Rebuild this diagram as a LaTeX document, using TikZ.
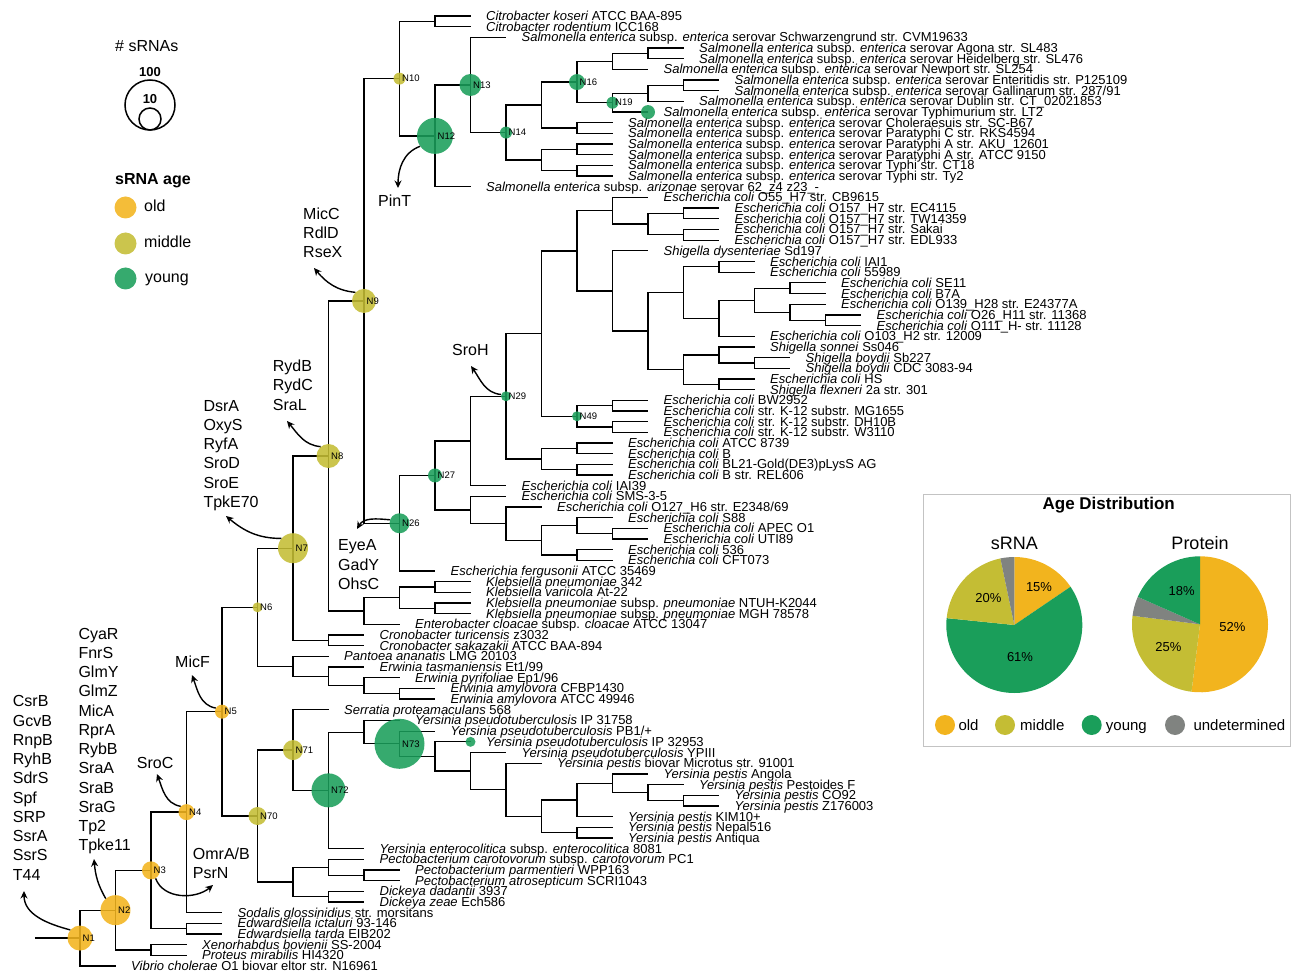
\documentclass[tikz,border=0pt]{standalone}
\usepackage{fontspec}
\setmainfont{Liberation Sans}
\usepackage{tikz}
\usetikzlibrary{arrows.meta}
\definecolor{oldc}{RGB}{242,180,30}
\definecolor{midc}{RGB}{196,189,52}
\definecolor{youngc}{RGB}{26,158,90}
\definecolor{undetc}{RGB}{128,131,128}
\definecolor{framegrey}{RGB}{195,195,195}

\newcommand{\salm}{\textit{Salmonella enterica} subsp. \textit{enterica} serovar}
\newcommand{\ecoli}{\textit{Escherichia coli}}
\newcommand{\clade}[3]{\draw[branch] (#1) |- (#2) (#1) |- (#3);}
\newcommand{\agenode}[4]{\node[#2, minimum size=#3pt] (c#1) at (#1) {};
  \node[nlab] (l#1) at (#1) {#4};}

\begin{document}
\begin{tikzpicture}[x=1pt, y=-1pt,
    branch/.style={line width=1.3pt},
    leaf/.style={anchor=base west, inner sep=0pt, xshift=15.5pt, yshift=-4.5pt,
                 font=\fontsize{13}{13}\selectfont},
    agedot/.style={circle, inner sep=0pt, fill opacity=0.88, text opacity=1},
    oldage/.style={agedot, fill=oldc},
    midage/.style={agedot, fill=midc},
    youngage/.style={agedot, fill=youngc},
    nlab/.style={anchor=west, inner sep=0pt, xshift=2.5pt, font=\fontsize{9.5}{10}\selectfont},
    srnalist/.style={anchor=north west, align=left, inner sep=0pt,
                     font=\fontsize{16}{19.25}\selectfont},
    txt/.style={anchor=west, inner sep=0pt, font=\fontsize{16}{16}\selectfont},
    keytxt/.style={anchor=base west, inner sep=0pt, font=\fontsize{16}{16}\selectfont},
    gain/.style={-{Stealth[length=7.5pt, width=7pt]}, line width=1.4pt}
]
\useasboundingbox (0,0) rectangle (1291,973);

% tree layout: depth along x, leaf index along y
\begin{scope}[shift={(80pt,-5.326pt)}, x=35.5pt, y=-10.674pt]
  \foreach \d [count=\i] in {11,11,12,17,17,16,18,18,17,16,15,15,15,15,15,15,11,16,18,18,
                             18,18,16,19,19,21,21,21,22,22,19,19,20,20,19,19,16,16,16,16,
                             15,15,15,15,12,12,13,15,16,16,15,15,10,11,11,11,11,9,8,8,
                             7,8,9,10,10,7,9,10,11,12,13,16,17,18,18,15,15,15,8,8,
                             9,9,8,8,4,4,4,3,3,1}
    \coordinate (t\i) at (\d,\i);
  % Salmonella / Citrobacter
  \coordinate (cit) at (10,1.5);
  \coordinate (p45) at (16,4.5);
  \coordinate (s1) at (15,5.25);
  \coordinate (p78) at (17,7.5);
  \coordinate (s2) at (16,8.25);
  \coordinate (n19) at (15,9.125);
  \coordinate (n16) at (14,7.1875);
  \coordinate (p1112) at (14,11.5);
  \coordinate (s3) at (13,9.34375);
  \coordinate (p1314) at (14,13.5);
  \coordinate (p1516) at (14,15.5);
  \coordinate (s4) at (13,14.5);
  \coordinate (n14) at (12,11.921875);
  \coordinate (n13) at (11,7.4609);
  \coordinate (n12) at (10,12.2305);
  \coordinate (n10) at (9,6.8652);
  % Escherichia / Shigella
  \coordinate (p1920) at (17,19.5);
  \coordinate (p2122) at (17,21.5);
  \coordinate (e1) at (16,20.5);
  \coordinate (e0) at (15,19.25);
  \coordinate (p2425) at (18,24.5);
  \coordinate (p2627) at (20,26.5);
  \coordinate (p2930) at (21,29.5);
  \coordinate (e2) at (20,28.75);
  \coordinate (e3) at (19,27.625);
  \coordinate (e4) at (18,29.3125);
  \coordinate (e5) at (17,26.90625);
  \coordinate (p3334) at (19,33.5);
  \coordinate (e6) at (18,32.75);
  \coordinate (p3536) at (18,35.5);
  \coordinate (e7) at (17,34.125);
  \coordinate (e8) at (16,30.515625);
  \coordinate (e9) at (15,26.7578);
  \coordinate (e10) at (14,23.0039);
  \coordinate (p3738) at (15,37.5);
  \coordinate (p3940) at (15,39.5);
  \coordinate (n49) at (14,38.5);
  \coordinate (e11) at (13,30.752);
  \coordinate (p4142) at (14,41.5);
  \coordinate (p4344) at (14,43.5);
  \coordinate (e12) at (13,42.5);
  \coordinate (n29) at (12,36.626);
  \coordinate (e13) at (11,40.813);
  \coordinate (p4950) at (15,49.5);
  \coordinate (e14) at (14,48.75);
  \coordinate (p5152) at (14,51.5);
  \coordinate (e15) at (13,50.125);
  \coordinate (e16) at (12,48.5625);
  \coordinate (e17) at (11,47.28125);
  \coordinate (n27) at (10,44.047);
  \coordinate (n26) at (9,48.5235);
  \coordinate (n9) at (8,27.6944);
  % Klebsiella, Cronobacter, Erwinia
  \coordinate (p5455) at (10,54.5);
  \coordinate (p5657) at (10,56.5);
  \coordinate (k1) at (9,55.5);
  \coordinate (k2) at (8,56.75);
  \coordinate (n8) at (7,42.2222);
  \coordinate (cro) at (7,59.5);
  \coordinate (n7) at (6,50.8611);
  \coordinate (p6465) at (9,64.5);
  \coordinate (w1) at (8,63.75);
  \coordinate (w2) at (7,62.875);
  \coordinate (w3) at (6,61.9375);
  \coordinate (n6) at (5,56.3993);
  % Yersinia, Pectobacterium, Dickeya
  \coordinate (p7475) at (17,74.5);
  \coordinate (y1) at (16,73.75);
  \coordinate (y2) at (15,72.875);
  \coordinate (y3) at (14,74.4375);
  \coordinate (p7778) at (14,77.5);
  \coordinate (y4) at (13,75.96875);
  \coordinate (y5) at (12,73.484);
  \coordinate (y6) at (11,71.742);
  \coordinate (y7) at (10,70.371);
  \coordinate (n73) at (9,69.186);
  \coordinate (y8) at (8,68.093);
  \coordinate (n72) at (7,73.546);
  \coordinate (n71) at (6,69.773);
  \coordinate (p8182) at (8,81.5);
  \coordinate (d1) at (7,80.75);
  \coordinate (p8384) at (7,83.5);
  \coordinate (d2) at (6,82.125);
  \coordinate (n70) at (5,75.949);
  % base of the tree
  \coordinate (n5) at (4,66.174);
  \coordinate (n4) at (3,75.587);
  \coordinate (p8687) at (3,86.5);
  \coordinate (n3) at (2,81.0435);
  \coordinate (p8889) at (2,88.5);
  \coordinate (n2) at (1,84.772);
  \coordinate (n1) at (0,87.386);
  \coordinate (root) at (-1.27,87.386);
\end{scope}

% branches
\clade{cit}{t1}{t2}
\clade{p45}{t4}{t5}
\clade{s1}{p45}{t6}
\clade{p78}{t7}{t8}
\clade{s2}{p78}{t9}
\clade{n19}{s2}{t10}
\clade{n16}{s1}{n19}
\clade{p1112}{t11}{t12}
\clade{s3}{n16}{p1112}
\clade{p1314}{t13}{t14}
\clade{p1516}{t15}{t16}
\clade{s4}{p1314}{p1516}
\clade{n14}{s3}{s4}
\clade{n13}{t3}{n14}
\clade{n12}{n13}{t17}
\clade{n10}{cit}{n12}
\clade{p1920}{t19}{t20}
\clade{p2122}{t21}{t22}
\clade{e1}{p1920}{p2122}
\clade{e0}{t18}{e1}
\clade{p2425}{t24}{t25}
\clade{p2627}{t26}{t27}
\clade{p2930}{t29}{t30}
\clade{e2}{t28}{p2930}
\clade{e3}{p2627}{e2}
\clade{e4}{e3}{t31}
\clade{e5}{p2425}{e4}
\clade{p3334}{t33}{t34}
\clade{e6}{t32}{p3334}
\clade{p3536}{t35}{t36}
\clade{e7}{e6}{p3536}
\clade{e8}{e5}{e7}
\clade{e9}{t23}{e8}
\clade{e10}{e0}{e9}
\clade{p3738}{t37}{t38}
\clade{p3940}{t39}{t40}
\clade{n49}{p3738}{p3940}
\clade{e11}{e10}{n49}
\clade{p4142}{t41}{t42}
\clade{p4344}{t43}{t44}
\clade{e12}{p4142}{p4344}
\clade{n29}{e11}{e12}
\clade{e13}{n29}{t45}
\clade{p4950}{t49}{t50}
\clade{e14}{t48}{p4950}
\clade{p5152}{t51}{t52}
\clade{e15}{e14}{p5152}
\clade{e16}{t47}{e15}
\clade{e17}{t46}{e16}
\clade{n27}{e13}{e17}
\clade{n26}{n27}{t53}
\clade{n9}{n10}{n26}
\clade{p5455}{t54}{t55}
\clade{p5657}{t56}{t57}
\clade{k1}{p5455}{p5657}
\clade{k2}{k1}{t58}
\clade{n8}{n9}{k2}
\clade{cro}{t59}{t60}
\clade{n7}{n8}{cro}
\clade{p6465}{t64}{t65}
\clade{w1}{t63}{p6465}
\clade{w2}{t62}{w1}
\clade{w3}{t61}{w2}
\clade{n6}{n7}{w3}
\clade{p7475}{t74}{t75}
\clade{y1}{t73}{p7475}
\clade{y2}{t72}{y1}
\clade{y3}{y2}{t76}
\clade{p7778}{t77}{t78}
\clade{y4}{y3}{p7778}
\clade{y5}{t71}{y4}
\clade{y6}{t70}{y5}
\clade{y7}{t69}{y6}
\clade{n73}{t68}{y7}
\clade{y8}{t67}{n73}
\clade{n72}{y8}{t79}
\clade{n71}{t66}{n72}
\clade{p8182}{t81}{t82}
\clade{d1}{t80}{p8182}
\clade{p8384}{t83}{t84}
\clade{d2}{d1}{p8384}
\clade{n70}{n71}{d2}
\clade{n5}{n6}{n70}
\clade{n4}{n5}{t85}
\clade{p8687}{t86}{t87}
\clade{n3}{n4}{p8687}
\clade{p8889}{t88}{t89}
\clade{n2}{n3}{p8889}
\clade{n1}{n2}{t90}
\draw[branch] (root) -- (n1);

% leaf labels
\node[leaf] (l1) at (t1) {\textit{Citrobacter koseri} ATCC BAA-895};
\node[leaf] (l2) at (t2) {\textit{Citrobacter rodentium} ICC168};
\node[leaf] (l3) at (t3) {\salm{} Schwarzengrund str. CVM19633};
\node[leaf] (l4) at (t4) {\salm{} Agona str. SL483};
\node[leaf] (l5) at (t5) {\salm{} Heidelberg str. SL476};
\node[leaf] (l6) at (t6) {\salm{} Newport str. SL254};
\node[leaf] (l7) at (t7) {\salm{} Enteritidis str. P125109};
\node[leaf] (l8) at (t8) {\salm{} Gallinarum str. 287/91};
\node[leaf] (l9) at (t9) {\salm{} Dublin str. CT\_02021853};
\node[leaf] (l10) at (t10) {\salm{} Typhimurium str. LT2};
\node[leaf] (l11) at (t11) {\salm{} Choleraesuis str. SC-B67};
\node[leaf] (l12) at (t12) {\salm{} Paratyphi C str. RKS4594};
\node[leaf] (l13) at (t13) {\salm{} Paratyphi A str. AKU\_12601};
\node[leaf] (l14) at (t14) {\salm{} Paratyphi A str. ATCC 9150};
\node[leaf] (l15) at (t15) {\salm{} Typhi str. CT18};
\node[leaf] (l16) at (t16) {\salm{} Typhi str. Ty2};
\node[leaf] (l17) at (t17) {\textit{Salmonella enterica} subsp. \textit{arizonae} serovar 62\_z4 z23\_-};
\node[leaf] (l18) at (t18) {\ecoli{} O55\_H7 str. CB9615};
\node[leaf] (l19) at (t19) {\ecoli{} O157\_H7 str. EC4115};
\node[leaf] (l20) at (t20) {\ecoli{} O157\_H7 str. TW14359};
\node[leaf] (l21) at (t21) {\ecoli{} O157\_H7 str. Sakai};
\node[leaf] (l22) at (t22) {\ecoli{} O157\_H7 str. EDL933};
\node[leaf] (l23) at (t23) {\textit{Shigella dysenteriae} Sd197};
\node[leaf] (l24) at (t24) {\ecoli{} IAI1};
\node[leaf] (l25) at (t25) {\ecoli{} 55989};
\node[leaf] (l26) at (t26) {\ecoli{} SE11};
\node[leaf] (l27) at (t27) {\ecoli{} B7A};
\node[leaf] (l28) at (t28) {\ecoli{} O139\_H28 str. E24377A};
\node[leaf] (l29) at (t29) {\ecoli{} O26\_H11 str. 11368};
\node[leaf] (l30) at (t30) {\ecoli{} O111\_H- str. 11128};
\node[leaf] (l31) at (t31) {\ecoli{} O103\_H2 str. 12009};
\node[leaf] (l32) at (t32) {\textit{Shigella sonnei} Ss046};
\node[leaf] (l33) at (t33) {\textit{Shigella boydii} Sb227};
\node[leaf] (l34) at (t34) {\textit{Shigella boydii} CDC 3083-94};
\node[leaf] (l35) at (t35) {\ecoli{} HS};
\node[leaf] (l36) at (t36) {\textit{Shigella flexneri} 2a str. 301};
\node[leaf] (l37) at (t37) {\ecoli{} BW2952};
\node[leaf] (l38) at (t38) {\ecoli{} str. K-12 substr. MG1655};
\node[leaf] (l39) at (t39) {\ecoli{} str. K-12 substr. DH10B};
\node[leaf] (l40) at (t40) {\ecoli{} str. K-12 substr. W3110};
\node[leaf] (l41) at (t41) {\ecoli{} ATCC 8739};
\node[leaf] (l42) at (t42) {\ecoli{} B};
\node[leaf] (l43) at (t43) {\ecoli{} BL21-Gold(DE3)pLysS AG};
\node[leaf] (l44) at (t44) {\ecoli{} B str. REL606};
\node[leaf] (l45) at (t45) {\ecoli{} IAI39};
\node[leaf] (l46) at (t46) {\ecoli{} SMS-3-5};
\node[leaf] (l47) at (t47) {\ecoli{} O127\_H6 str. E2348/69};
\node[leaf] (l48) at (t48) {\ecoli{} S88};
\node[leaf] (l49) at (t49) {\ecoli{} APEC O1};
\node[leaf] (l50) at (t50) {\ecoli{} UTI89};
\node[leaf] (l51) at (t51) {\ecoli{} 536};
\node[leaf] (l52) at (t52) {\ecoli{} CFT073};
\node[leaf] (l53) at (t53) {\textit{Escherichia fergusonii} ATCC 35469};
\node[leaf] (l54) at (t54) {\textit{Klebsiella pneumoniae} 342};
\node[leaf] (l55) at (t55) {\textit{Klebsiella variicola} At-22};
\node[leaf] (l56) at (t56) {\textit{Klebsiella pneumoniae} subsp. \textit{pneumoniae} NTUH-K2044};
\node[leaf] (l57) at (t57) {\textit{Klebsiella pneumoniae} subsp. \textit{pneumoniae} MGH 78578};
\node[leaf] (l58) at (t58) {\textit{Enterobacter cloacae} subsp. \textit{cloacae} ATCC 13047};
\node[leaf] (l59) at (t59) {\textit{Cronobacter turicensis} z3032};
\node[leaf] (l60) at (t60) {\textit{Cronobacter sakazakii} ATCC BAA-894};
\node[leaf] (l61) at (t61) {\textit{Pantoea ananatis} LMG 20103};
\node[leaf] (l62) at (t62) {\textit{Erwinia tasmaniensis} Et1/99};
\node[leaf] (l63) at (t63) {\textit{Erwinia pyrifoliae} Ep1/96};
\node[leaf] (l64) at (t64) {\textit{Erwinia amylovora} CFBP1430};
\node[leaf] (l65) at (t65) {\textit{Erwinia amylovora} ATCC 49946};
\node[leaf] (l66) at (t66) {\textit{Serratia proteamaculans} 568};
\node[leaf] (l67) at (t67) {\textit{Yersinia pseudotuberculosis} IP 31758};
\node[leaf] (l68) at (t68) {\textit{Yersinia pseudotuberculosis} PB1/+};
\node[leaf] (l69) at (t69) {\textit{Yersinia pseudotuberculosis} IP 32953};
\node[leaf] (l70) at (t70) {\textit{Yersinia pseudotuberculosis} YPIII};
\node[leaf] (l71) at (t71) {\textit{Yersinia pestis} biovar Microtus str. 91001};
\node[leaf] (l72) at (t72) {\textit{Yersinia pestis} Angola};
\node[leaf] (l73) at (t73) {\textit{Yersinia pestis} Pestoides F};
\node[leaf] (l74) at (t74) {\textit{Yersinia pestis} CO92};
\node[leaf] (l75) at (t75) {\textit{Yersinia pestis} Z176003};
\node[leaf] (l76) at (t76) {\textit{Yersinia pestis} KIM10+};
\node[leaf] (l77) at (t77) {\textit{Yersinia pestis} Nepal516};
\node[leaf] (l78) at (t78) {\textit{Yersinia pestis} Antiqua};
\node[leaf] (l79) at (t79) {\textit{Yersinia enterocolitica} subsp. \textit{enterocolitica} 8081};
\node[leaf] (l80) at (t80) {\textit{Pectobacterium carotovorum} subsp. \textit{carotovorum} PC1};
\node[leaf] (l81) at (t81) {\textit{Pectobacterium parmentieri} WPP163};
\node[leaf] (l82) at (t82) {\textit{Pectobacterium atrosepticum} SCRI1043};
\node[leaf] (l83) at (t83) {\textit{Dickeya dadantii} 3937};
\node[leaf] (l84) at (t84) {\textit{Dickeya zeae} Ech586};
\node[leaf] (l85) at (t85) {\textit{Sodalis glossinidius} str. morsitans};
\node[leaf] (l86) at (t86) {\textit{Edwardsiella ictaluri} 93-146};
\node[leaf] (l87) at (t87) {\textit{Edwardsiella tarda} EIB202};
\node[leaf] (l88) at (t88) {\textit{Xenorhabdus bovienii} SS-2004};
\node[leaf] (l89) at (t89) {\textit{Proteus mirabilis} HI4320};
\node[leaf] (l90) at (t90) {\textit{Vibrio cholerae} O1 biovar eltor str. N16961};

% node circles: colour = sRNA age, size = number of sRNAs
\agenode{n1}{oldage}{25}{N1}
\agenode{n2}{oldage}{30}{N2}
\agenode{n3}{oldage}{18}{N3}
\agenode{n4}{oldage}{16}{N4}
\agenode{n5}{oldage}{14}{N5}
\agenode{n6}{midage}{10}{N6}
\agenode{n7}{midage}{30}{N7}
\agenode{n8}{midage}{24}{N8}
\agenode{n9}{midage}{24}{N9}
\agenode{n10}{midage}{12}{N10}
\agenode{n12}{youngage}{36}{N12}
\agenode{n13}{youngage}{22}{N13}
\agenode{n14}{youngage}{12}{N14}
\agenode{n16}{youngage}{16}{N16}
\agenode{n19}{youngage}{12}{N19}
\agenode{n26}{youngage}{20}{N26}
\agenode{n27}{youngage}{14}{N27}
\agenode{n29}{youngage}{10}{N29}
\agenode{n49}{youngage}{10}{N49}
\agenode{n70}{midage}{18}{N70}
\agenode{n71}{midage}{20}{N71}
\agenode{n72}{youngage}{34}{N72}
\agenode{n73}{youngage}{50}{N73}
\node[youngage, minimum size=14pt] (ct10) at (t10) {};
\node[youngage, minimum size=10pt] (ct69) at (t69) {};

% sRNAs gained at nodes
\node[srnalist] (g1) at (12.7,695.6) {CsrB\\GcvB\\RnpB\\RyhB\\SdrS\\Spf\\SRP\\SsrA\\SsrS\\T44};
\node[srnalist] (g2) at (78.3,627.8) {CyaR\\FnrS\\GlmY\\GlmZ\\MicA\\RprA\\RybB\\SraA\\SraB\\SraG\\Tp2\\Tpke11};
\node[srnalist] (g3) at (192.7,847.4) {OmrA/B\\PsrN};
\node[txt] (g4) at (136.7,763.2) {SroC};
\node[txt] (g5) at (175,661.4) {MicF};
\node[srnalist] (g7) at (203.3,399.9) {DsrA\\OxyS\\RyfA\\SroD\\SroE\\TpkE70};
\node[srnalist] (g8) at (272.7,359.9) {RydB\\RydC\\SraL};
\node[srnalist] (g9) at (303,207.5) {MicC\\RdlD\\RseX};
\node[txt] (g12) at (378,201) {PinT};
\node[srnalist] (g26) at (338,539.7) {EyeA\\GadY\\OhsC};
\node[txt] (g29) at (452,350) {SroH};

\coordinate (a1) at (24,891);
\coordinate (a2) at (94,859);
\coordinate (a3) at (213,885);
\coordinate (a4) at (157,774);
\coordinate (a5) at (192,675);
\coordinate (a7) at (226,516);
\coordinate (a8) at (287,421);
\coordinate (a9) at (314,268);
\coordinate (a12) at (398,188);
\coordinate (a26) at (357,529);
\coordinate (a29) at (471,366);
\draw[gain] (cn1.140) to[out=165, in=-90] (a1);
\draw[gain] (cn2.130) to[out=120, in=-85] (a2);
\draw[gain] (cn3.-60) to[out=-70, in=-140] (a3);
\draw[gain] (cn4.135) to[out=170, in=-70] (a4);
\draw[gain] (cn5.150) to[out=170, in=-70] (a5);
\draw[gain] (cn7.140) to[out=180, in=-40] (a7);
\draw[gain] (cn8.130) to[out=175, in=-50] (a8);
\draw[gain] (cn9.135) to[out=175, in=-50] (a9);
\draw[gain] (cn12.215) to[out=200, in=90] (a12);
\draw[gain] (cn26.160) to[out=175, in=60] (a26);
\draw[gain] (cn29.160) to[out=175, in=-55] (a29);

% legend: size and age
\node[txt] (sizehead) at (115,46) {\# sRNAs};
\node[circle, draw, line width=1.5pt, minimum size=50pt, inner sep=0pt] (s100) at (150,105) {};
\node[circle, draw, line width=1.5pt, minimum size=22pt, inner sep=0pt] (s10) at (150,119) {};
\node[inner sep=0pt, font=\fontsize{13}{13}\selectfont\bfseries] (t100) at (150,72) {100};
\node[inner sep=0pt, font=\fontsize{13}{13}\selectfont\bfseries] (t10lab) at (150,99.5) {10};
\node[txt, font=\fontsize{16}{16}\selectfont\bfseries] (agehead) at (115,181) {sRNA age};
\node[oldage, minimum size=22pt] (kold) at (125.5,207.5) {};
\node[midage, minimum size=22pt] (kmid) at (125.5,243.5) {};
\node[youngage, minimum size=22pt] (kyoung) at (125.5,278.5) {};
\node[keytxt] (told) at (144,212) {old};
\node[keytxt] (tmid) at (144,247.3) {middle};
\node[keytxt] (tyoung) at (145,282.5) {young};

% age distribution box
\draw[framegrey, line width=1pt] (923,494) rectangle (1290,746.5);
\node[inner sep=0pt, font=\fontsize{17}{17}\selectfont\bfseries] (pietitle) at (1108.7,505.5) {Age Distribution};
\node[inner sep=0pt, font=\fontsize{18}{18}\selectfont] (pie1head) at (1014.3,543.5) {sRNA};
\node[inner sep=0pt, font=\fontsize{18}{18}\selectfont] (pie2head) at (1200,543.5) {Protein};
\coordinate (pa) at (1014.3,625);
\coordinate (pb) at (1200,624.3);
\fill[oldc] (pa) -- ++(90:68pt) arc[start angle=90, end angle=34.2, radius=68pt] -- cycle;
\fill[youngc] (pa) -- ++(34.2:68pt) arc[start angle=34.2, end angle=-185.8, radius=68pt] -- cycle;
\fill[midc] (pa) -- ++(-185.8:68pt) arc[start angle=-185.8, end angle=-258.2, radius=68pt] -- cycle;
\fill[undetc] (pa) -- ++(-258.2:68pt) arc[start angle=-258.2, end angle=-270, radius=68pt] -- cycle;
\fill[oldc] (pb) -- ++(90:68pt) arc[start angle=90, end angle=-97.2, radius=68pt] -- cycle;
\fill[midc] (pb) -- ++(-97.2:68pt) arc[start angle=-97.2, end angle=-187.2, radius=68pt] -- cycle;
\fill[undetc] (pb) -- ++(-187.2:68pt) arc[start angle=-187.2, end angle=-203.8, radius=68pt] -- cycle;
\fill[youngc] (pb) -- ++(-203.8:68pt) arc[start angle=-203.8, end angle=-270, radius=68pt] -- cycle;
\node[inner sep=0pt, font=\fontsize{13}{13}\selectfont] (q1) at (1039,587) {15\%};
\node[inner sep=0pt, font=\fontsize{13}{13}\selectfont] (q2) at (988.3,598) {20\%};
\node[inner sep=0pt, font=\fontsize{13}{13}\selectfont] (q3) at (1020,657) {61\%};
\node[inner sep=0pt, font=\fontsize{13}{13}\selectfont] (q4) at (1181.7,591) {18\%};
\node[inner sep=0pt, font=\fontsize{13}{13}\selectfont] (q5) at (1232.3,627.5) {52\%};
\node[inner sep=0pt, font=\fontsize{13}{13}\selectfont] (q6) at (1168.3,647.5) {25\%};
\node[circle, inner sep=0pt, minimum size=20pt, fill=oldc] (pk1) at (945,725) {};
\node[circle, inner sep=0pt, minimum size=20pt, fill=midc] (pk2) at (1005,725) {};
\node[circle, inner sep=0pt, minimum size=20pt, fill=youngc] (pk3) at (1091.7,725) {};
\node[circle, inner sep=0pt, minimum size=20pt, fill=undetc] (pk4) at (1175,725) {};
\node[keytxt, font=\fontsize{15}{15}\selectfont] (pl1) at (958.3,730.5) {old};
\node[keytxt, font=\fontsize{15}{15}\selectfont] (pl2) at (1020,730.5) {middle};
\node[keytxt, font=\fontsize{15}{15}\selectfont] (pl3) at (1105.7,730.5) {young};
\node[keytxt, font=\fontsize{15}{15}\selectfont] (pl4) at (1193.3,730.5) {undetermined};
\end{tikzpicture}
\end{document}
